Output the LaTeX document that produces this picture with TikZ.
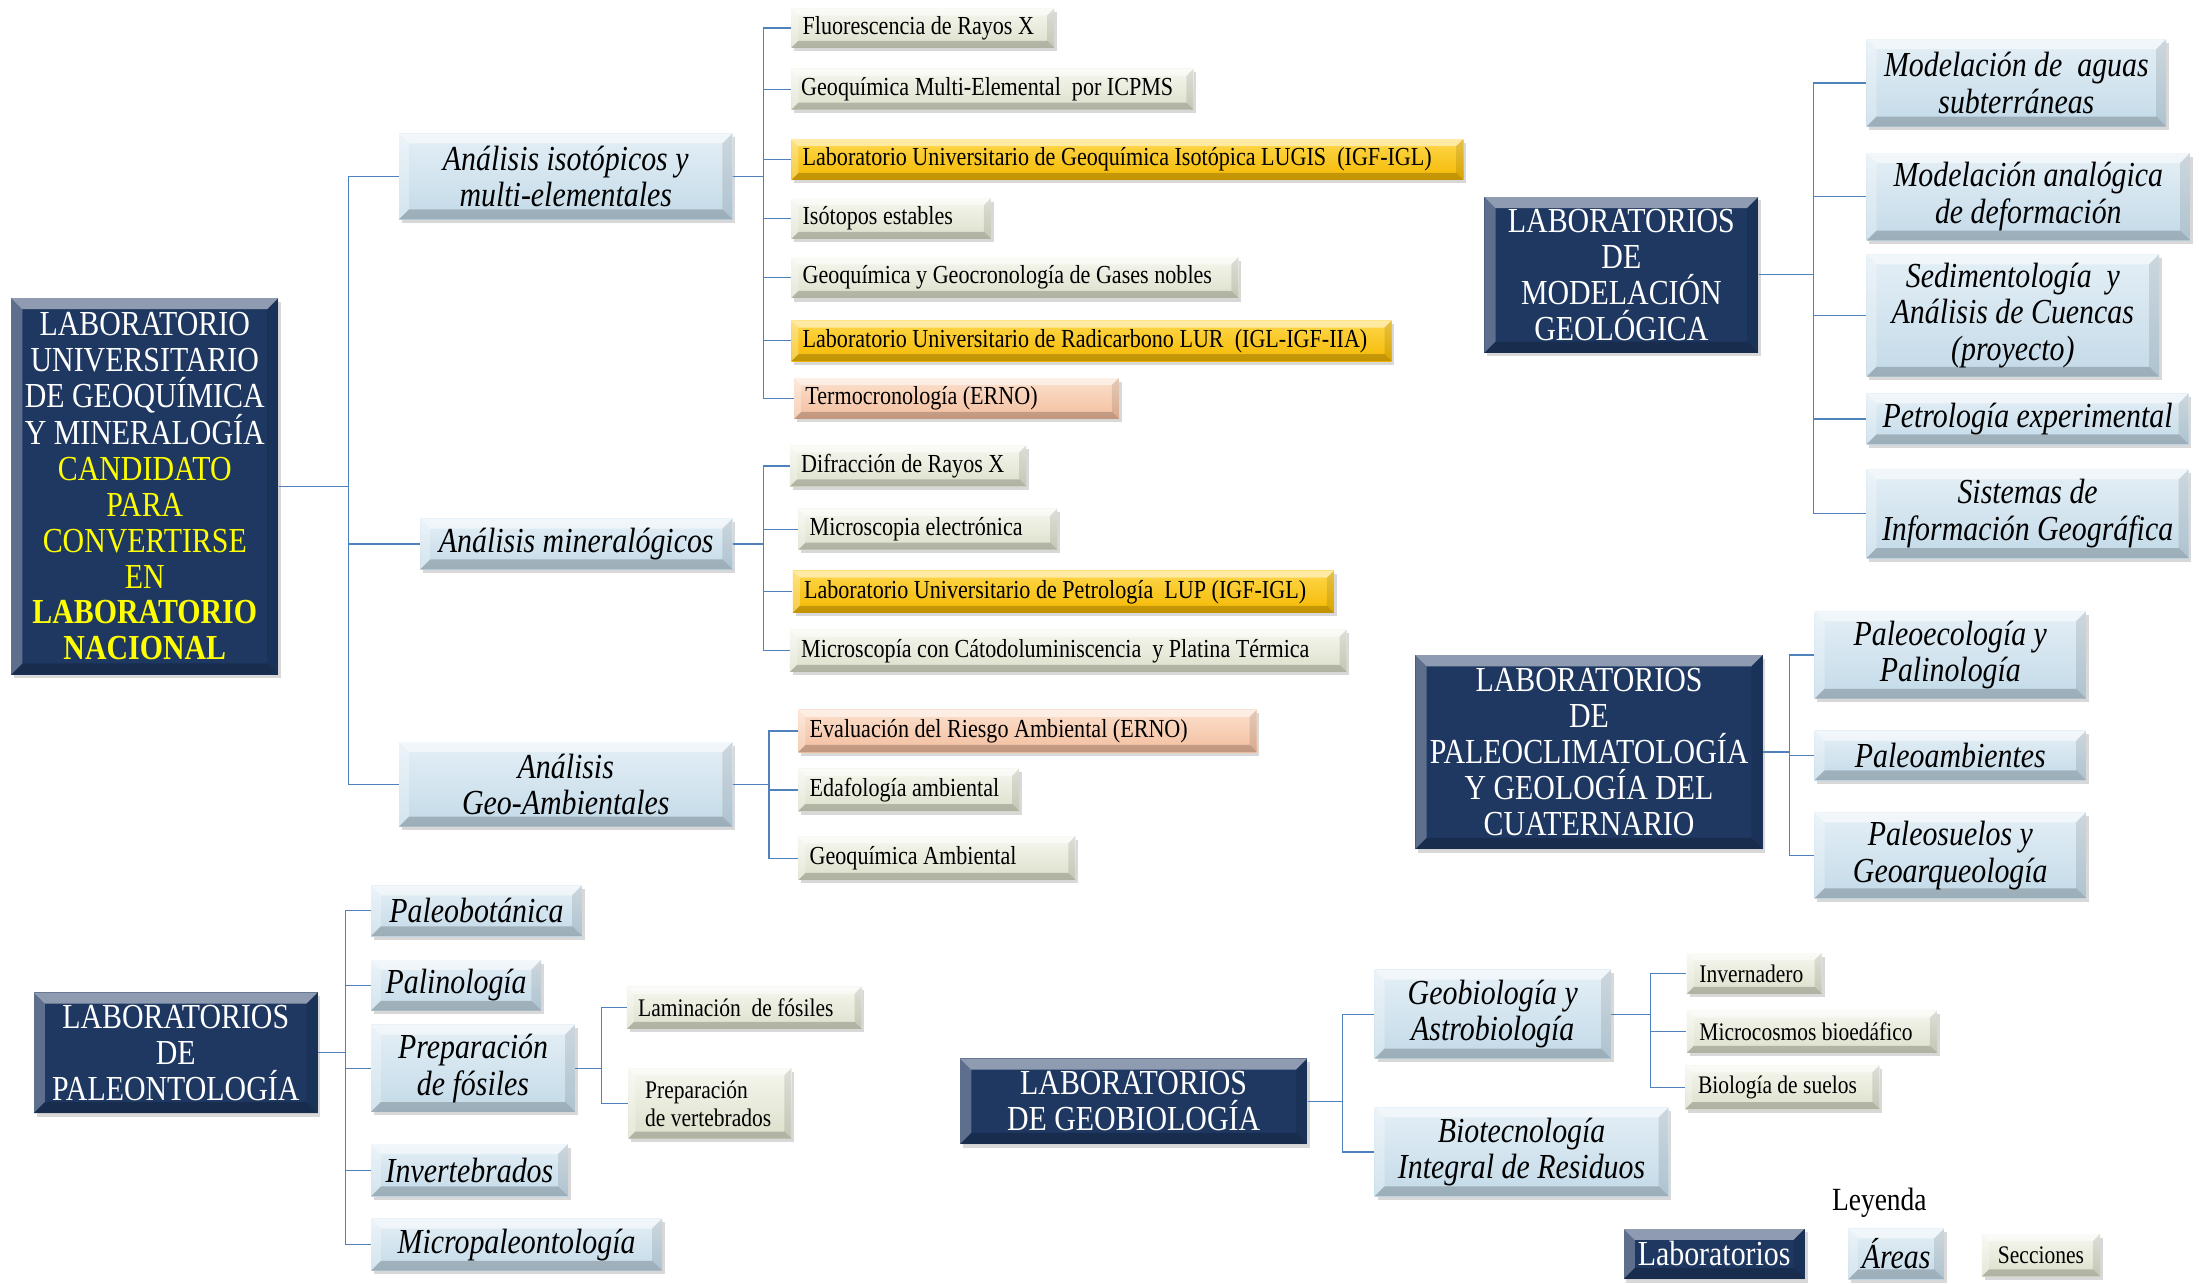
\documentclass[tikz,border=0pt]{standalone}
\usepackage{graphicx}
\usepackage{fontspec}
\setmainfont{Liberation Serif}
\usetikzlibrary{shadows}
\definecolor{labblue}{HTML}{1F3862}
\definecolor{lineblue}{HTML}{4F81BD}
\definecolor{yel}{HTML}{FFFF00}
\definecolor{areaT}{HTML}{E4EFF6}
\definecolor{areaB}{HTML}{C3DAE8}
\definecolor{secT}{HTML}{F6F7EF}
\definecolor{secB}{HTML}{DCDFCA}
\definecolor{goldT}{HTML}{FFD84D}
\definecolor{goldB}{HTML}{F4B800}
\definecolor{peachT}{HTML}{FCE0CD}
\definecolor{peachB}{HTML}{F3BE9E}
\def\fstretch{0.85}
\newcommand\bevfacets[1]{%
  \coordinate (bvNW) at (path picture bounding box.north west);
  \coordinate (bvNE) at (path picture bounding box.north east);
  \coordinate (bvSW) at (path picture bounding box.south west);
  \coordinate (bvSE) at (path picture bounding box.south east);
  \fill[white,opacity=.5] (bvNW) -- (bvNE) -- ([shift={(-#1,-#1)}]bvNE) -- ([shift={(#1,-#1)}]bvNW) -- cycle;
  \fill[white,opacity=.28] (bvNW) -- ([shift={(#1,-#1)}]bvNW) -- ([shift={(#1,#1)}]bvSW) -- (bvSW) -- cycle;
  \fill[black,opacity=.10] (bvNE) -- (bvSE) -- ([shift={(-#1,#1)}]bvSE) -- ([shift={(-#1,-#1)}]bvNE) -- cycle;
  \fill[black,opacity=.2] (bvSW) -- (bvSE) -- ([shift={(-#1,#1)}]bvSE) -- ([shift={(#1,#1)}]bvSW) -- cycle;
}
% #1 alignment, #2 style, #3 name, #4 x1, #5 y1, #6 x2, #7 y2, #8 pad, #9 text
\newcommand\bxgen[9]{%
  \pgfmathsetmacro\bxw{#6-#4}%
  \pgfmathsetmacro\bxh{#7-#5}%
  \pgfmathsetmacro\bxpw{(#6-#4-2*#8)/\fstretch}%
  \pgfmathsetmacro\bxcx{(#4+#6)/2}%
  \pgfmathsetmacro\bxcy{(#5+#7)/2}%
  \node[#2, minimum width=\bxw pt, minimum height=\bxh pt] (#3) at (\bxcx,\bxcy)
    {\scalebox{\fstretch}[1]{\parbox[c]{\bxpw pt}{#1#9}}};%
}
\newcommand\bxnode{\bxgen{\centering}}
\newcommand\bxnodel{\bxgen{\raggedright}}
\tikzset{
  bevel/.style={path picture={\bevfacets{#1}}},
  basebox/.style={inner xsep=0pt, inner ysep=0pt, draw=none,
    drop shadow={shadow xshift=2pt, shadow yshift=-2.5pt, opacity=.3}},
  lab/.style={basebox, fill=labblue, text=white, bevel=8pt,
    font=\fontsize{25}{25.5}\selectfont},
  area/.style={basebox, top color=areaT, bottom color=areaB, bevel=7pt,
    font=\itshape\fontsize{25}{26}\selectfont},
  sec/.style={basebox, top color=secT, bottom color=secB, bevel=5pt,
    font=\fontsize{18.5}{20}\selectfont},
  smallsec/.style={sec, font=\fontsize{18}{20}\selectfont},
  gold/.style={sec, top color=goldT, bottom color=goldB},
  peach/.style={sec, top color=peachT, bottom color=peachB},
  conn/.style={draw=lineblue, line width=0.9pt},
}
\begin{document}
\begin{tikzpicture}[x=1pt,y=-1pt]
\fill[white] (0,0) rectangle (1568,913);
\useasboundingbox (0,0) rectangle (1568,913);

% ---------- main laboratory ----------
\bxnode{lab}{main}{8}{212}{198}{480}{3}{LABORATORIO\\UNIVERSITARIO\\DE GEOQUÍMICA\\Y MINERALOGÍA\\\textcolor{yel}{CANDIDATO}\\\textcolor{yel}{PARA}\\\textcolor{yel}{CONVERTIRSE}\\\textcolor{yel}{EN}\\\textcolor{yel}{\bfseries LABORATORIO}\\\textcolor{yel}{\bfseries NACIONAL}}

\bxnode{area}{a1}{284}{95}{521}{156}{3}{Análisis isotópicos y\\multi-elementales}
\bxnode{area}{a2}{299}{369}{521}{405}{3}{Análisis mineralógicos}
\bxnode{area}{a3}{284}{528}{521}{588}{3}{Análisis\\Geo-Ambientales}

\bxnodel{sec}{s1}{563}{6}{750}{34}{8}{Fluorescencia de Rayos X}
\bxnodel{sec}{s2}{563}{49}{849}{78}{7}{Geoquímica Multi-Elemental~ por ICPMS}
\bxnodel{gold}{s3}{563}{99}{1041}{128}{8}{Laboratorio Universitario de Geoquímica Isotópica LUGIS~ (IGF-IGL)}
\bxnodel{sec}{s4}{563}{141}{705}{170}{8}{Isótopos estables}
\bxnodel{sec}{s5}{563}{183}{881}{212}{8}{Geoquímica y Geocronología de Gases nobles}
\bxnodel{gold}{s6}{563}{228}{990}{257}{8}{Laboratorio Universitario de Radicarbono LUR~ (IGL-IGF-IIA)}
\bxnodel{peach}{s7}{565}{269}{796}{298}{8}{Termocronología (ERNO)}

\bxnodel{sec}{s8}{562}{317}{730}{346}{8}{Difracción de Rayos X}
\bxnodel{sec}{s9}{568}{362}{752}{391}{8}{Microscopia electrónica}
\bxnodel{gold}{s10}{564}{406}{949}{436}{8}{Laboratorio Universitario de Petrología~ LUP (IGF-IGL)}
\bxnodel{sec}{s11}{562}{448}{958}{478}{8}{Microscopía con Cátodoluminiscencia~ y Platina Térmica}

\bxnodel{peach}{s12}{568}{505}{894}{535}{8}{Evaluación del Riesgo Ambiental (ERNO)}
\bxnodel{sec}{s13}{568}{547}{725}{577}{8}{Edafología ambiental}
\bxnodel{sec}{s14}{568}{595}{765}{626}{8}{Geoquímica Ambiental}

% ---------- modelacion ----------
\bxnode{lab}{labmod}{1056}{140}{1251}{251}{3}{LABORATORIOS\\DE\\MODELACIÓN\\GEOLÓGICA}
\bxnode{area}{m1}{1328}{28}{1541}{90}{3}{Modelación de~ aguas\\subterráneas}
\bxnode{area}{m2}{1328}{109}{1558}{171}{3}{Modelación analógica\\de deformación}
\bxnode{area}{m3}{1328}{181}{1536}{268}{3}{Sedimentología~ y\\Análisis de Cuencas\\(proyecto)}
\bxnode{area}{m4}{1328}{280}{1557}{316}{3}{Petrología experimental}
\bxnode{area}{m5}{1328}{334}{1557}{397}{3}{Sistemas de\\Información Geográfica}

% ---------- paleoclimatologia ----------
\bxnode{lab}{labpal}{1007}{466}{1254}{604}{3}{LABORATORIOS\\DE\\PALEOCLIMATOLOGÍA\\Y GEOLOGÍA DEL\\CUATERNARIO}
\bxnode{area}{p1}{1291}{435}{1484}{497}{3}{Paleoecología y\\Palinología}
\bxnode{area}{p2}{1291}{520}{1484}{555}{3}{Paleoambientes}
\bxnode{area}{p3}{1291}{578}{1484}{639}{3}{Paleosuelos y\\Geoarqueología}

% ---------- paleontologia ----------
\bxnode{lab}{labpaleo}{24}{706}{226}{792}{3}{LABORATORIOS\\DE\\PALEONTOLOGÍA}
\bxnode{area}{l1}{264}{630}{414}{666}{3}{Paleobotánica}
\bxnode{area}{l2}{264}{683}{385}{719}{3}{Palinología}
\bxnode{area}{l3}{264}{729}{409}{791}{3}{Preparación\\de fósiles}
\bxnode{area}{l4}{264}{814}{404}{851}{3}{Invertebrados}
\bxnode{area}{l5}{264}{867}{471}{904}{3}{Micropaleontología}
\bxnodel{smallsec}{l3a}{446}{702}{613}{732}{8}{Laminación~ de fósiles}
\bxnodel{smallsec}{l3b}{447}{760}{563}{810}{12}{Preparación\\de vertebrados}

% ---------- geobiologia ----------
\bxnode{lab}{labgeo}{683}{753}{930}{814}{3}{LABORATORIOS\\DE GEOBIOLOGÍA}
\bxnode{area}{g1}{978}{690}{1146}{753}{3}{Geobiología y\\Astrobiología}
\bxnode{area}{g2}{978}{788}{1187}{851}{3}{Biotecnología\\Integral de Residuos}
\bxnodel{smallsec}{g1a}{1200}{678}{1296}{707}{9}{Invernadero}
\bxnodel{smallsec}{g1b}{1200}{719}{1378}{749}{9}{Microcosmos bioedáfico}
\bxnodel{smallsec}{g1c}{1199}{758}{1337}{789}{9}{Biología de suelos}

% ---------- legend ----------
\node[font=\fontsize{23}{24}\selectfont] (leyenda) at (1337,856) {\scalebox{\fstretch}[1]{Leyenda}};
\bxnode{lab}{legL}{1155}{874}{1284}{910}{3}{Laboratorios}
\bxnode{area}{legA}{1315}{874}{1383}{910}{3}{Áreas}
\bxnode{smallsec}{legS}{1410}{878}{1494}{908}{4}{Secciones}

% ---------- bus coordinates ----------
\coordinate (bM) at (248,0);
\coordinate (bA1) at (543,0);
\coordinate (bA2) at (543,0);
\coordinate (bA3) at (547,0);
\coordinate (bMod) at (1290,0);
\coordinate (bPal) at (1273,0);
\coordinate (bPaleo) at (246,0);
\coordinate (bL3) at (428,0);
\coordinate (bGeo) at (955,0);
\coordinate (bG1) at (1174,0);

% ---------- connectors ----------
\foreach \c in {a1,a2,a3} \draw[conn] (main.east) -- (main.east -| bM) |- (\c.west);
\foreach \c in {s1,s2,s3,s4,s5,s6,s7} \draw[conn] (a1.east) -- (a1.east -| bA1) |- (\c.west);
\foreach \c in {s8,s9,s10,s11} \draw[conn] (a2.east) -- (a2.east -| bA2) |- (\c.west);
\foreach \c in {s12,s13,s14} \draw[conn] (a3.east) -- (a3.east -| bA3) |- (\c.west);
\foreach \c in {m1,m2,m3,m4,m5} \draw[conn] (labmod.east) -- (labmod.east -| bMod) |- (\c.west);
\foreach \c in {p1,p2,p3} \draw[conn] (labpal.east) -- (labpal.east -| bPal) |- (\c.west);
\foreach \c in {l1,l2,l3,l4,l5} \draw[conn] (labpaleo.east) -- (labpaleo.east -| bPaleo) |- (\c.west);
\foreach \c in {l3a,l3b} \draw[conn] (l3.east) -- (l3.east -| bL3) |- (\c.west);
\foreach \c in {g1,g2} \draw[conn] (labgeo.east) -- (labgeo.east -| bGeo) |- (\c.west);
\foreach \c in {g1a,g1b,g1c} \draw[conn] (g1.east) -- (g1.east -| bG1) |- (\c.west);
\end{tikzpicture}
\end{document}
